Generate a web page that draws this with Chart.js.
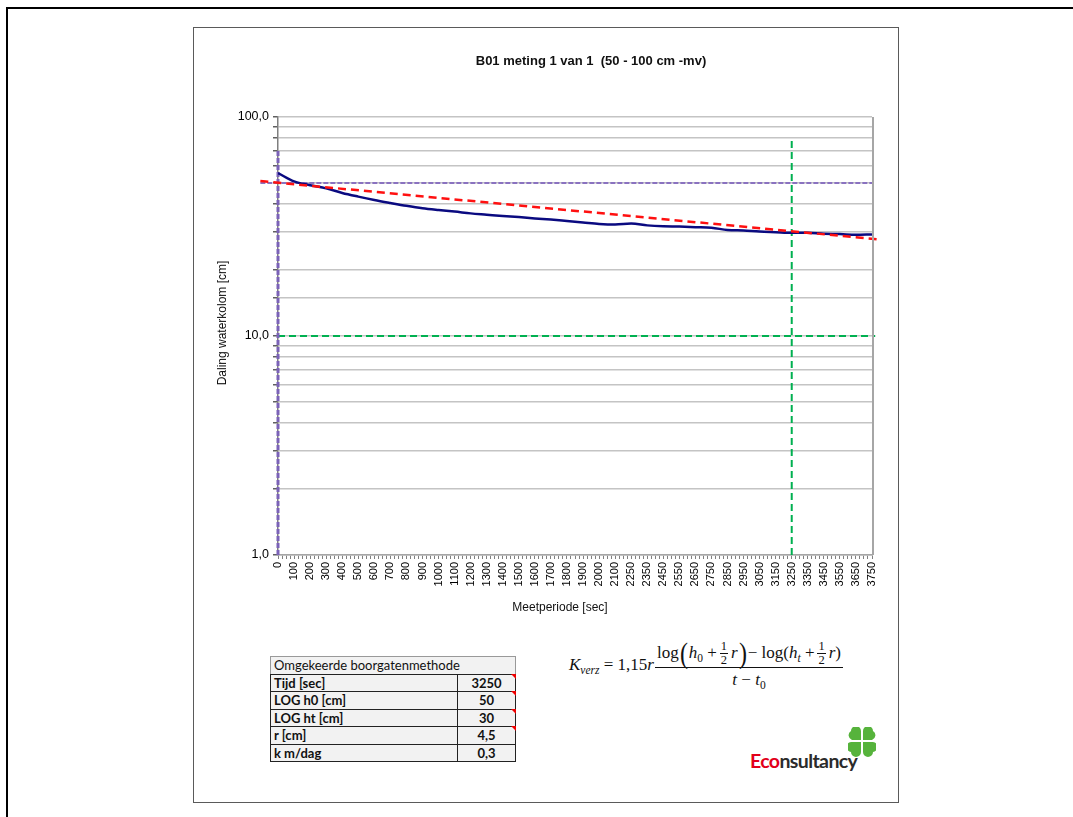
<!DOCTYPE html>
<html><head><meta charset="utf-8">
<script src="https://cdn.jsdelivr.net/npm/chart.js@4.4.0/dist/chart.umd.min.js"></script>
<style>
html,body{margin:0;padding:0;background:#fff;width:1073px;height:817px;overflow:hidden;font-family:"Liberation Sans",Arial,sans-serif;}
#frame{position:absolute;left:6px;top:7px;width:1200px;height:900px;border-top:2px solid #000;border-left:2px solid #000;}
#box{position:absolute;left:193px;top:27px;width:704px;height:774px;border:1px solid #5a5a5a;}
#c{position:absolute;left:194px;top:28px;}
.title{position:absolute;left:391px;width:400px;top:53px;text-align:center;font-weight:bold;font-size:13px;line-height:16px;color:#111;}
.ytitle{position:absolute;left:122px;top:315px;width:200px;height:16px;line-height:16px;text-align:center;font-size:12px;transform:rotate(-90deg);color:#111;}
.xtitle{position:absolute;left:460px;top:599px;width:200px;line-height:16px;text-align:center;font-size:12px;color:#111;}
#tbl{position:absolute;left:270px;top:656px;border-collapse:collapse;background:#f2f2f2;font-family:Lato,"Open Sans",sans-serif;font-size:13px;color:#111;}
#tbl td{padding:0 0 0 3px;height:16.5px;line-height:16px;border:1px solid #222;}
#tbl td.v{text-align:center;width:57px;position:relative;font-weight:bold;padding:0;}
#tbl td.l{width:183px;font-weight:bold;}
#tbl td.h{font-weight:normal;border:1px solid #999;border-bottom:1px solid #222;}
#tbl td.v.m::after{content:"";position:absolute;right:-1px;top:-1px;border-top:5px solid #e00;border-left:5px solid transparent;}
#formula{position:absolute;left:569px;top:639px;font-family:"Liberation Serif","DejaVu Serif",serif;font-size:17px;color:#111;display:flex;align-items:center;white-space:nowrap;}
#formula i{font-style:italic;}
#formula sub{font-size:11.5px;vertical-align:-4px;line-height:0;}
.frac{display:inline-flex;flex-direction:column;align-items:center;margin-left:1px;}
.frac .n{display:flex;align-items:center;padding:0 2px;}
.frac .d{border-top:1px solid #111;width:100%;text-align:center;padding-top:2px;}
.half{display:inline-flex;flex-direction:column;align-items:center;font-size:12.5px;line-height:13px;margin:0 3px;}
.half span:first-child{border-bottom:1px solid #111;padding:0 1px;}
.big{font-size:30px;line-height:28px;transform:scaleX(0.8);display:inline-block;}
#logo{position:absolute;left:750px;top:749px;font-family:Lato,"Open Sans",sans-serif;font-weight:700;font-size:19.5px;letter-spacing:-0.6px;color:#2b2b2b;}
#clover{position:absolute;left:848px;top:727px;}
</style></head>
<body>
<div id="frame"></div>
<div id="box"></div>
<canvas id="c" width="704" height="600"></canvas>
<div class="title">B01 meting 1 van 1&nbsp;&nbsp;(50 - 100 cm -mv)</div>
<div class="ytitle">Daling waterkolom [cm]</div>
<div class="xtitle">Meetperiode [sec]</div>
<table id="tbl"></table>
<div id="formula">
  <span><i>K</i><sub><i>verz</i></sub> = 1,15<i>r</i></span>
  <span class="frac">
    <span class="n"><span>log</span><span class="big">(</span><span><i>h</i><sub>0</sub>&nbsp;+</span><span class="half"><span>1</span><span>2</span></span><span><i>r</i></span><span class="big">)</span><span>−&nbsp;log(<i>h</i><sub><i>t</i></sub>&nbsp;+</span><span class="half"><span>1</span><span>2</span></span><span><i>r</i>)</span></span>
    <span class="d"><i>t</i> − <i>t</i><sub>0</sub></span>
  </span>
</div>
<div id="logo"><span style="color:#e2001a">Eco</span>nsultancy</div>
<svg id="clover" width="28" height="30" viewBox="0 0 28 30">
  <g fill="#56b33c">
    <path d="M13 13 L13 4 A5 5 0 0 0 3 4 A5 5 0 0 0 4 13 Z"/>
    <path d="M15 13 L15 4 A5 5 0 0 1 25 4 A5 5 0 0 1 24 13 Z"/>
    <path d="M13 15 L4 15 A5 5 0 0 0 3 25 A5 5 0 0 0 13 25 Z"/>
    <path d="M15 15 L24 15 A5 5 0 0 1 25 25 A5 5 0 0 1 15 25 Z"/>
  </g>
</svg>
<script>
// ---- data ----
const timeLabels = ['0','100','200','300','400','500','600','700','800','900','1000','1100','1200','1300','1400','1500','1600','1700','1800','1900','2000','2100','2250','2350','2450','2550','2650','2750','2850','2950','3050','3150','3250','3350','3450','3550','3650','3750'];
const waterLevel = [55.5,50.8,48.8,47.2,45.0,43.3,41.8,40.5,39.3,38.3,37.6,37.0,36.3,35.8,35.3,34.9,34.4,34.0,33.5,33.0,32.5,32.3,32.6,32.0,31.7,31.6,31.4,31.2,30.5,30.3,30.0,29.8,29.6,29.6,29.3,29.2,29.0,29.1];
const trendPos = [-1.1, 37.4];
const trendLevel = [51, 27.6];
const h0Pos = [-1.1, 37.1];
const h0Level = [50, 50];
const startPos = [0, 0];
const startLevel = [1, 70];
const tPos = [32, 32];
const tLevel = [1, 81];
const tenPos = [0, 37.2];
const tenLevel = [10, 10];
const yLabelValues = [1, 10, 100];
const tableLabels = ['Tijd [sec]','LOG h0 [cm]','LOG ht [cm]','r [cm]','k m/dag'];
const tableValues = ['3250','50','30','4,5','0,3'];
const tableMarked = [true,true,true,true,false];

// ---- table ----
const tbl = document.getElementById('tbl');
let html = '<tr><td class="h" colspan="2">Omgekeerde boorgatenmethode</td></tr>';
tableLabels.forEach((l,i)=>{ html += '<tr><td class="l">'+l+'</td><td class="v'+(tableMarked[i]?' m':'')+'">'+tableValues[i]+'</td></tr>'; });
tbl.innerHTML = html;

const pts = (xs, ys) => xs.map((x,i)=>({x:x, y:ys[i]}));

const frame = {
  id:'frame',
  afterDraw(chart){
    const {ctx, chartArea:a} = chart;
    ctx.save();
    ctx.strokeStyle='#a6a6a6'; ctx.lineWidth=2;
    ctx.beginPath(); ctx.moveTo(a.right+1, a.top); ctx.lineTo(a.right+1, a.bottom); ctx.stroke();
    ctx.restore();
  }
};

new Chart(document.getElementById('c'), {
  type:'line',
  data:{
    datasets:[
      {data:pts(startPos,startLevel), borderColor:'#7b62b8', borderWidth:3, borderDash:[5,2], pointRadius:0, clip:false, order:3},
      {data:pts(h0Pos,h0Level), borderColor:'#8a72c0', borderWidth:2, borderDash:[5,2], pointRadius:0, clip:false, order:3},
      {data:pts(tenPos,tenLevel), borderColor:'#00b050', borderWidth:2, borderDash:[7,4], pointRadius:0, clip:false, order:3},
      {data:pts(tPos,tLevel), borderColor:'#00b050', borderWidth:2, borderDash:[7,4], pointRadius:0, clip:false, order:3},
      {data:waterLevel.map((v,i)=>({x:i,y:v})), borderColor:'#0a0a80', borderWidth:2.5, pointRadius:0, cubicInterpolationMode:'monotone', order:2},
      {data:pts(trendPos,trendLevel), borderColor:'#ff1010', borderWidth:2.5, borderDash:[8,5], pointRadius:0, clip:false, order:1}
    ]
  },
  options:{
    responsive:false, animation:false, devicePixelRatio:1,
    layout:{padding:{left:0, top:89, right:26, bottom:0}},
    plugins:{legend:{display:false}, title:{display:false}, tooltip:{enabled:false}},
    scales:{
      x:{type:'linear', min:0, max:37,
        afterFit(s){ s.height = 73; },
        border:{display:true, color:'#a6a6a6', width:1.5},
        grid:{drawOnChartArea:false, drawTicks:true, tickLength:4, tickColor:'#808080'},
        ticks:{stepSize:0.25, autoSkip:false, minRotation:90, maxRotation:90, padding:3, color:'#000',
          font:{family:'"Liberation Sans", Arial, sans-serif', size:11},
          callback:(v)=>{ const r=Math.round(v); return Math.abs(v-r)<1e-6 ? timeLabels[r] : ''; }}
      },
      y:{type:'logarithmic', min:1, max:100,
        afterFit(s){ s.width = 84; },
        border:{display:true, color:'#7f7f7f', width:1.5},
        grid:{color:'#c4c4c4', lineWidth:1.5, tickLength:5, tickColor:'#606060'},
        ticks:{autoSkip:false, padding:4, color:'#000', font:{family:'"Liberation Sans", Arial, sans-serif', size:12.5},
          callback:(v)=> yLabelValues.includes(v) ? v.toFixed(1).replace('.',',') : ''}
      }
    }
  },
  plugins:[frame]
});
</script>
</body></html>
